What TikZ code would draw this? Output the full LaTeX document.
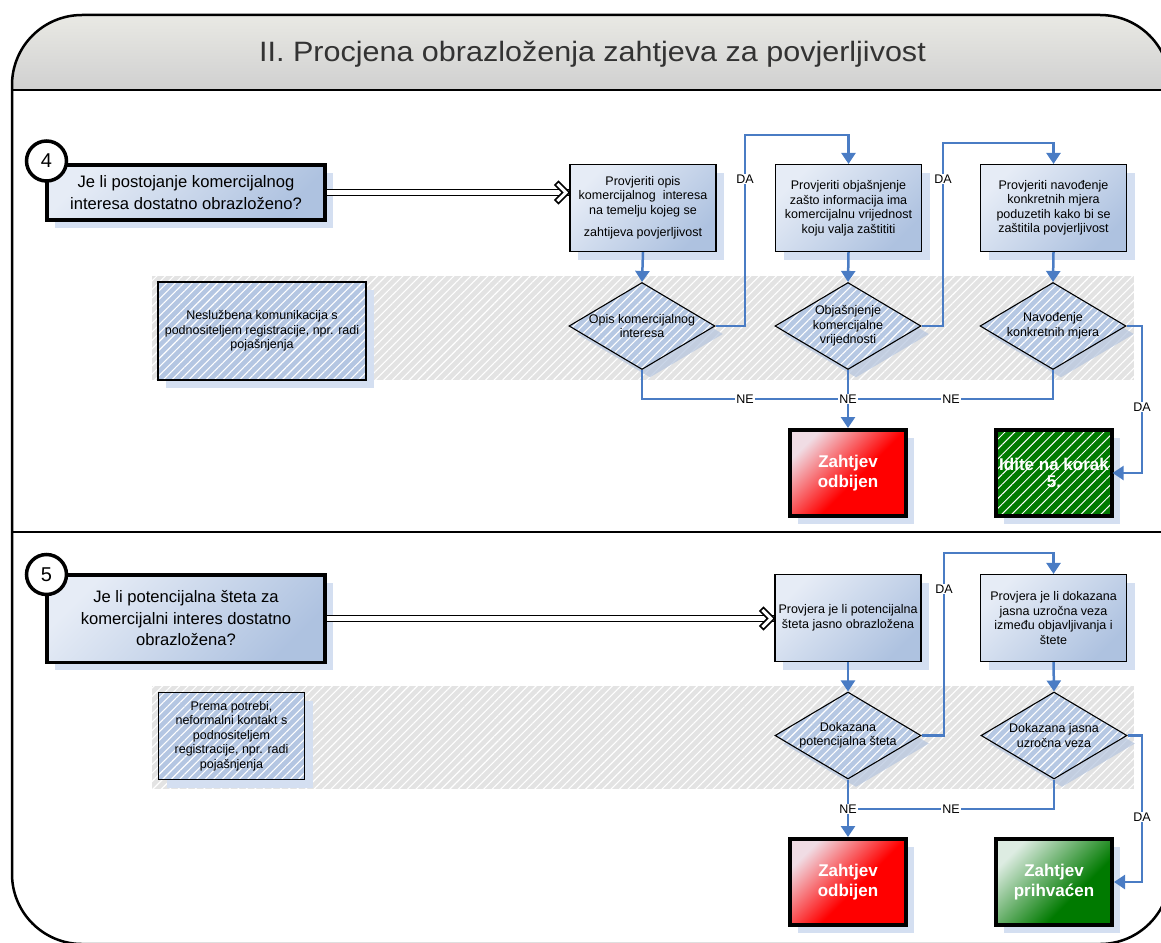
\documentclass[tikz,border=0pt]{standalone}
\usepackage{fontspec}
\setmainfont{Liberation Sans}
\usetikzlibrary{arrows.meta,shapes.geometric,patterns.meta,shadows,decorations.markings}
\definecolor{flowblue}{HTML}{4A7CC4}
\definecolor{boxlight}{HTML}{E6ECF6}
\definecolor{boxdark}{HTML}{AEC2E0}
\definecolor{shadowblue}{HTML}{D4DFF1}
\definecolor{diashadow}{HTML}{B4C4DE}
\definecolor{hatchgray}{HTML}{E3E3E3}
\definecolor{notefill}{HTML}{B4C6E2}
\definecolor{diafill}{HTML}{B6C8E3}
\definecolor{okgreen}{HTML}{007A00}
\definecolor{okgreenlight}{HTML}{DDECE2}
\definecolor{redlight}{HTML}{F0DCE4}
\definecolor{headtop}{HTML}{EEEEE8}
\definecolor{headbot}{HTML}{D0D0D0}
\definecolor{titlegray}{HTML}{333333}
\pgfdeclarehorizontalshading{redsh}{100bp}{color(0bp)=(redlight); color(25bp)=(redlight); color(55bp)=(red); color(100bp)=(red)}
\pgfdeclarehorizontalshading{greensh}{100bp}{color(0bp)=(okgreenlight); color(25bp)=(okgreenlight); color(62bp)=(okgreen); color(100bp)=(okgreen)}
\begin{document}
\begin{tikzpicture}[x=1pt,y=-1pt,
  txt/.style={font=\fontsize{12.5}{14.5}\selectfont, align=center, text=black},
  bigtxt/.style={font=\fontsize{16.6}{21.5}\selectfont, align=center, text=black},
  boxshadow/.style={drop shadow={shadow xshift=8pt, shadow yshift=-8pt, fill=shadowblue, opacity=1}},
  proc/.style={txt, draw=black, line width=1.1pt, boxshadow, top color=boxlight, bottom color=boxdark, shading angle=45, minimum width=146pt, minimum height=87pt, inner sep=1pt},
  question/.style={bigtxt, draw=black, line width=3.5pt, boxshadow, top color=boxlight, bottom color=boxdark, shading angle=45, minimum width=278pt},
  stepnum/.style={circle, draw=black, line width=3.5pt, fill=white, minimum size=40pt, inner sep=0pt, font=\fontsize{20}{20}\selectfont},
  hatch/.style={pattern={Lines[angle=45,distance=6pt,line width=1.1pt]}, pattern color=white},
  decision/.style={diamond, draw=black, line width=1.1pt, minimum width=146pt, minimum height=87pt, inner sep=0pt, drop shadow={shadow xshift=8pt, shadow yshift=-8pt, fill=diashadow, opacity=0.7}, preaction={fill=diafill}, hatch},
  note/.style={txt, draw=black, line width=1.1pt, boxshadow, preaction={fill=notefill}, hatch},
  outcome/.style={draw=black, line width=4pt, minimum width=116pt, minimum height=86pt, text=white, font=\bfseries\fontsize{17}{20}\selectfont, align=center, boxshadow},
  flow/.style={draw=flowblue, line width=2.5pt, -{Triangle[width=14pt,length=11pt]}},
  flowline/.style={draw=flowblue, line width=2.5pt},
  lbl/.style={txt, fill=white, inner sep=1pt},
  implies/.style={draw=black, double=white, double distance=4.5pt, line width=1.5pt,
    postaction={decorate, decoration={markings, mark=at position 1 with {
      \draw[fill=white, line width=1.5pt, line join=miter] (0,0) -- (-11,-11) -- (-14.5,-7.5) -- (-7,0) -- (-14.5,7.5) -- (-11,11) -- cycle;}}}},
]
\useasboundingbox (0,0) rectangle (1161,942);
\clip (0,0) rectangle (1161,942);

% frame and header
\begin{scope}
\clip[rounded corners=70pt] (12,500) -- (12,15) -- (1170,15) -- (1170,944) -- (12,944) -- cycle;
\shade[top color=headtop, bottom color=headbot] (0,0) rectangle (1200,90);
\end{scope}
\draw[line width=2.5pt, rounded corners=70pt] (12,500) -- (12,15) -- (1170,15) -- (1170,944) -- (12,944) -- cycle;
\draw[line width=2.5pt] (12,90) -- (1161,90);
\draw[line width=2pt] (12,532) -- (1161,532);
\node[font=\fontsize{28}{30}\selectfont, text=titlegray, anchor=base, xscale=1.09] (title) at (592.5,62) {II. Procjena obrazloženja zahtjeva za povjerljivost};

% ---------- section 4 ----------
\fill[hatchgray] (152,276) rectangle (1134,380);
\fill[hatch] (152,276) rectangle (1134,380);

\node[question, minimum height=55pt] (q4) at (186,192.5) {Je li postojanje komercijalnog\\interesa dostatno obrazloženo?};
\node[stepnum] (n4) at (46.5,161) {4};

\node[proc] (b1) at (643,208) {Provjeriti opis\\komercijalnog\ \ interesa\\na temelju kojeg se\\[8pt]zahtijeva povjerljivost};
\node[proc] (b2) at (848.5,208) {Provjeriti objašnjenje\\zašto informacija ima\\komercijalnu vrijednost\\koju valja zaštititi};
\node[proc] (b3) at (1053.5,208) {Provjeriti navođenje\\konkretnih mjera\\poduzetih kako bi se\\zaštitila povjerljivost};

\node[note, minimum width=208pt, minimum height=98pt] (m4) at (262,331) {Neslužbena komunikacija s\\podnositeljem registracije, npr. radi\\pojašnjenja};

\node[decision, label={[txt]center:{Opis komercijalnog\\interesa}}] (d1) at (642,326) {};
\node[decision, label={[txt]center:{Objašnjenje\\komercijalne\\vrijednosti}}] (d2) at (848,326) {};
\node[decision, label={[txt]center:{Navođenje\\konkretnih mjera}}] (d3) at (1053,326) {};

\node[outcome, shade, shading=redsh, shading angle=-45] (r4) at (848,473) {Zahtjev\\odbijen};
\node[outcome, preaction={fill=okgreen}, pattern={Lines[angle=45,distance=7pt,line width=1pt]}, pattern color=white] (g4) at (1054,473) {Idite na korak\\[-3pt]5.};

\draw[implies] (q4.east) -- (q4.east -| b1.west);
\draw[flow] (b1.south) -- (d1.north);
\draw[flow] (b2.south) -- (d2.north);
\draw[flow] (b3.south) -- (d3.north);
\coordinate (da1) at (745,135);
\coordinate (da2) at (943,143);
\coordinate (ne1) at (848,399);
\coordinate (da3) at (1142,400);
\draw[flow] (d1.east) -| (da1) -| (b2.north);
\draw[flow] (d2.east) -| (da2) -| (b3.north);
\draw[flowline] (d1.south) |- (ne1);
\draw[flowline] (d3.south) |- (ne1);
\draw[flow] (d2.south) -- (r4.north);
\draw[flow] (d3.east) -| (da3) |- (g4.east);
\node[lbl] (l1) at (745,179) {DA};
\node[lbl] (l2) at (943,179) {DA};
\node[lbl] (l3) at (745,399) {NE};
\node[lbl] (l4) at (848,399) {NE};
\node[lbl] (l5) at (951,399) {NE};
\node[lbl] (l6) at (1142,407) {DA};

% ---------- section 5 ----------
\fill[hatchgray] (152,686) rectangle (1134,789);
\fill[hatch] (152,686) rectangle (1134,789);

\node[question, minimum height=87.5pt] (q5) at (186,618.5) {Je li potencijalna šteta za\\komercijalni interes dostatno\\obrazložena?};
\node[stepnum] (n5) at (46.5,574.5) {5};

\node[proc] (p1) at (848,618) {Provjera je li potencijalna\\šteta jasno obrazložena};
\node[proc] (p2) at (1053.5,618) {Provjera je li dokazana\\jasna uzročna veza\\između objavljivanja i\\štete};

\node[note, minimum width=146pt, minimum height=87pt] (m5) at (231.5,736) {Prema potrebi,\\neformalni kontakt s\\podnositeljem\\registracije, npr. radi\\pojašnjenja};

\node[decision, label={[txt]center:{Dokazana\\potencijalna šteta}}] (e1) at (848,735.5) {};
\node[decision, label={[txt]center:{Dokazana jasna\\uzročna veza}}] (e2) at (1054,735.5) {};

\node[outcome, shade, shading=redsh, shading angle=-45] (r5) at (848,882) {Zahtjev\\odbijen};
\node[outcome, shade, shading=greensh, shading angle=-45] (g5) at (1054,882) {Zahtjev\\prihvaćen};

\draw[implies] (q5.east) -- (q5.east -| p1.west);
\draw[flow] (p1.south) -- (e1.north);
\draw[flow] (p2.south) -- (e2.north);
\coordinate (da4) at (944,553);
\coordinate (ne2) at (848,809);
\coordinate (da5) at (1142,800);
\draw[flow] (e1.east) -| (da4) -| (p2.north);
\draw[flow] (e1.south) -- (r5.north);
\draw[flowline] (e2.south) |- (ne2);
\draw[flow] (e2.east) -| (da5) |- (g5.east);
\node[lbl] (k1) at (944,589) {DA};
\node[lbl] (k2) at (848,809) {NE};
\node[lbl] (k3) at (951,809) {NE};
\node[lbl] (k4) at (1142,817) {DA};
\end{tikzpicture}
\end{document}
